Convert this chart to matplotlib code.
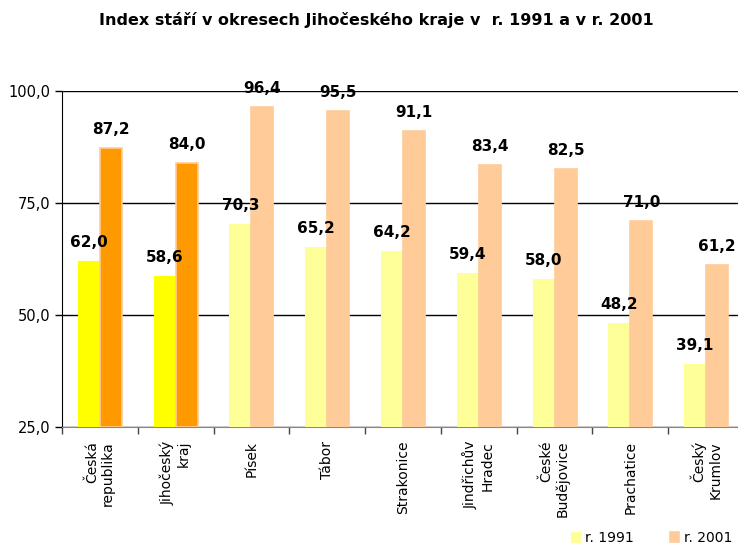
import matplotlib
matplotlib.use("Agg")
import matplotlib.pyplot as plt
import numpy as np
from matplotlib.ticker import FuncFormatter, FixedLocator

categories = ["Česká\nrepublika", "Jihočeský\nkraj", "Písek", "Tábor", "Strakonice",
              "Jindřichův\nHradec", "České\nBudějovice", "Prachatice", "Český\nKrumlov"]
values_1991 = [62.0, 58.6, 70.3, 65.2, 64.2, 59.4, 58.0, 48.2, 39.1]
values_2001 = [87.2, 84.0, 96.4, 95.5, 91.1, 83.4, 82.5, 71.0, 61.2]
series_labels = ["r. 1991", "r. 2001"]
title = "Index stáří v okresech Jihočeského kraje v  r. 1991 a v r. 2001"

colors_1991 = ["#FFFF00", "#FFFF00"] + ["#FFFF99"] * 7
colors_2001 = ["#FF9900", "#FF9900"] + ["#FFCC99"] * 7

plt.rcParams['font.family'] = ['Verdana', 'DejaVu Sans']

fig = plt.figure(figsize=(7.38, 5.47), dpi=100)
ax = fig.add_axes([62/738, 120/547, (744-62)/738, 336/547])

x = np.arange(len(categories))
w = 0.29
b1 = ax.bar(x - w/2, np.array(values_1991) - 25, w, bottom=25, color=colors_1991,
            edgecolor=colors_1991, linewidth=0.8, label=series_labels[0], zorder=3)
b2 = ax.bar(x + w/2, np.array(values_2001) - 25, w, bottom=25, color=colors_2001,
            edgecolor="#FFCC99", linewidth=1.2, label=series_labels[1], zorder=3)

for xi, v in zip(x - w/2, values_1991):
    ax.annotate(f"{v:.1f}".replace(".", ","), (xi, v), xytext=(0, 8), textcoords="offset points",
                ha="center", va="bottom", fontsize=11, fontweight="bold")
for xi, v in zip(x + w/2, values_2001):
    ax.annotate(f"{v:.1f}".replace(".", ","), (xi, v), xytext=(0, 8), textcoords="offset points",
                ha="center", va="bottom", fontsize=11, fontweight="bold")

ax.set_xlim(-0.5, len(categories) - 0.5)
ax.set_ylim(25, 100)
ax.set_yticks([25, 50, 75, 100])
ax.yaxis.set_major_formatter(FuncFormatter(lambda v, p: f"{v:.1f}".replace(".", ",")))
ax.tick_params(axis="y", labelsize=10.5, length=5, width=1, direction="out")
ax.grid(axis="y", color="black", linewidth=1, zorder=1)

ax.xaxis.set_major_locator(FixedLocator(np.arange(len(categories) + 1) - 0.5))
ax.xaxis.set_major_formatter(FuncFormatter(lambda v, p: ""))
ax.tick_params(axis="x", length=5, width=1, direction="out", color="#444444")
ax.xaxis.set_minor_locator(FixedLocator(x))
ax.set_xticklabels(categories, minor=True, rotation=90, fontsize=10, ha="center", va="top",
                   multialignment="right")
ax.tick_params(axis="x", which="minor", length=0, pad=10)

for s in ["top", "right"]:
    ax.spines[s].set_visible(False)
ax.spines["left"].set_color("black")
ax.spines["bottom"].set_color("#888888")

fig.text(376/738, 1 - 20/547, title, ha="center", va="center", fontsize=11.5, fontweight="bold")

leg = fig.legend(handles=[b1[2], b2[2]], labels=series_labels, loc="center",
                 bbox_to_anchor=(652/738, 1 - 538/547), ncol=2, frameon=False, fontsize=10,
                 handlelength=0.6, handleheight=0.7, columnspacing=2.6, handletextpad=0.4)

fig.savefig("out.png", dpi=100)
